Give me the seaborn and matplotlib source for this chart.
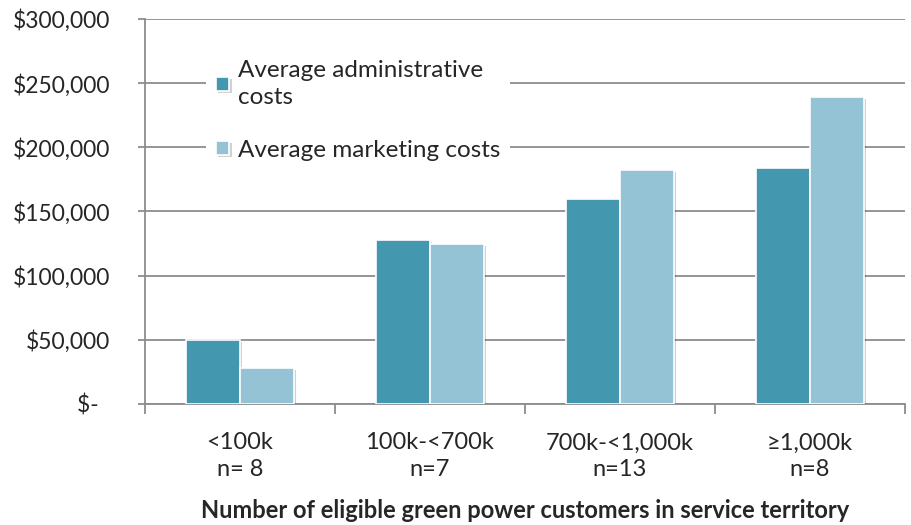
import pandas as pd
import matplotlib.pyplot as plt
import matplotlib.patheffects as pe
from matplotlib.ticker import FuncFormatter, FixedLocator
import seaborn as sns

categories = ["<100k\nn= 8", "100k-<700k\nn=7", "700k-<1,000k\nn=13", "≥1,000k\nn=8"]
admin_costs = [50000, 128000, 159500, 184000]
marketing_costs = [28000, 125000, 182500, 239000]
series_names = ["Average administrative\ncosts", "Average marketing costs"]
colors = ["#4398AF", "#93C3D5"]

df = pd.DataFrame({
    "group": categories * 2,
    "series": [series_names[0]] * 4 + [series_names[1]] * 4,
    "cost": admin_costs + marketing_costs,
})

sns.set_style("white")
plt.rcParams["font.family"] = ["Lato", "DejaVu Sans"]

fig = plt.figure(figsize=(9.11, 5.25), dpi=100)
ax = fig.add_axes([0.159, 0.2305, 0.834, 0.7335])

sns.barplot(data=df, x="group", y="cost", hue="series", palette=colors, saturation=1,
            width=0.57, ax=ax, edgecolor="white", linewidth=1.2, zorder=3)

for bar in ax.patches:
    bar.set_path_effects([pe.SimplePatchShadow(offset=(1.5, -1.5), alpha=0.18, shadow_rgbFace="black"),
                          pe.Normal()])

grid_c = "#8c8c8c"
ax.set_ylim(0, 300000)
ax.set_xlim(-0.5, 3.5)
ax.set_yticks(range(0, 300001, 50000))
ax.yaxis.set_major_formatter(FuncFormatter(lambda v, p: "$-  " if v == 0 else f"${v:,.0f}"))
ax.grid(axis="y", color=grid_c, linewidth=1.3, zorder=0)
ax.set_axisbelow(True)

for s in ["top", "right"]:
    ax.spines[s].set_visible(False)
for s in ["left", "bottom"]:
    ax.spines[s].set_color(grid_c)
    ax.spines[s].set_linewidth(1.3)

ax.tick_params(axis="y", length=5, width=1.3, color=grid_c, pad=20, labelsize=16.5, left=True)
ax.tick_params(axis="x", which="major", length=0, pad=20.5, labelsize=17)
for t in ax.get_xticklabels():
    t.set_linespacing(1.3)
ax.xaxis.set_minor_locator(FixedLocator([-0.5, 0.5, 1.5, 2.5, 3.5]))
ax.tick_params(axis="x", which="minor", length=7, width=1.3, color=grid_c, bottom=True)

ax.set_ylabel("")
ax.set_xlabel("Number of eligible green power customers in service territory",
              fontsize=17, fontweight="bold", labelpad=14)

leg = ax.legend(loc="upper left", bbox_to_anchor=(0.065, 0.95), frameon=True,
                facecolor="white", edgecolor="none", framealpha=1,
                fontsize=17.5, handlelength=0.55, handleheight=0.55,
                handletextpad=0.35, labelspacing=1.3, borderpad=0.4)
for t in leg.get_texts():
    t.set_linespacing(1.35)
leg.set_zorder(5)

plt.savefig("out.png", dpi=100)
